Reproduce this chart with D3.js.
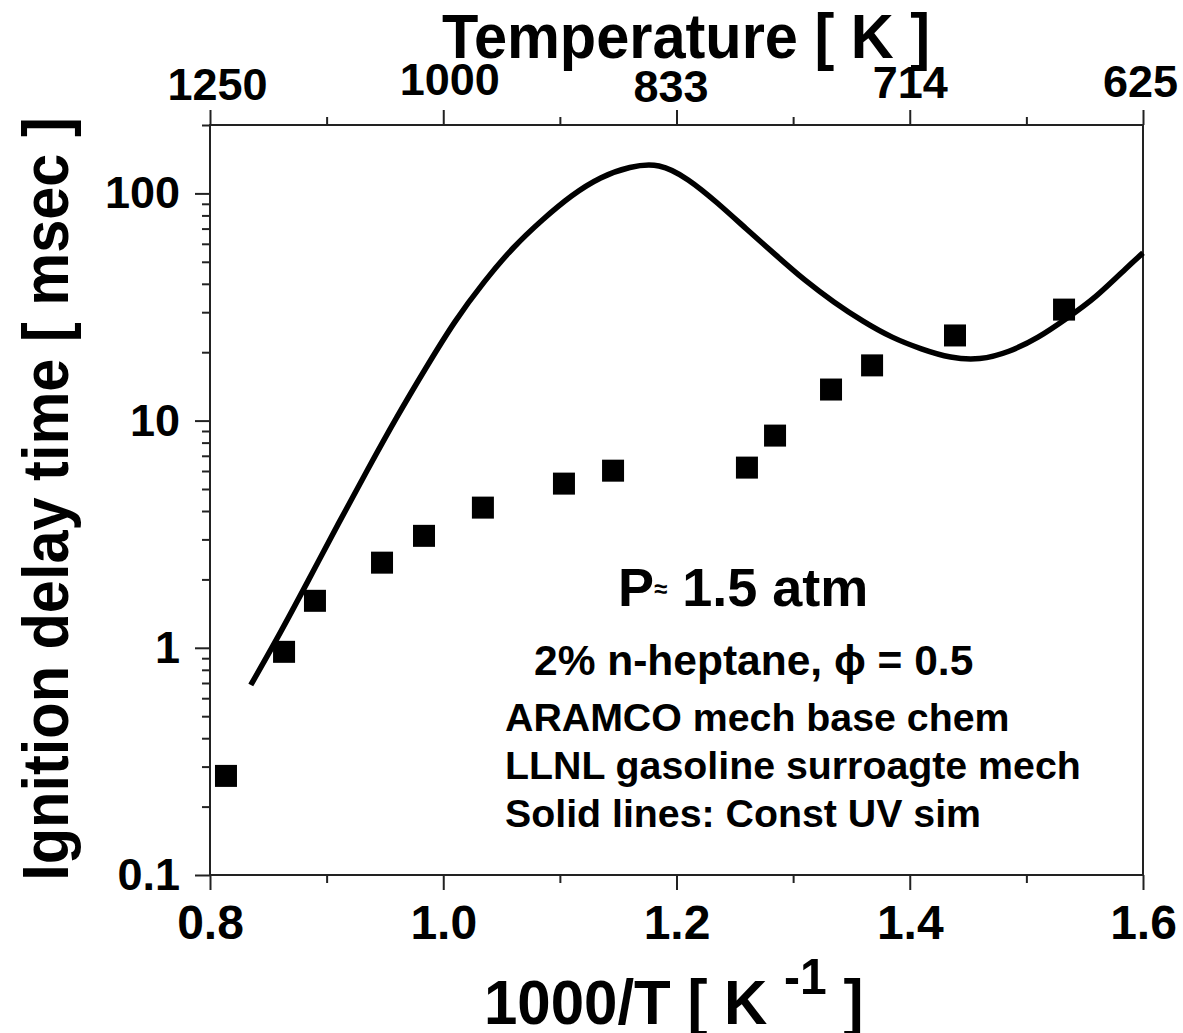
<!DOCTYPE html>
<html>
<head>
<meta charset="utf-8">
<script src="https://cdn.jsdelivr.net/npm/d3@7"></script>
<style>
  html, body { margin: 0; padding: 0; background: #fff; }
  svg { display: block; }
  text { font-family: "Liberation Sans", Arial, sans-serif; font-weight: bold; fill: #000; }
</style>
</head>
<body>
<svg id="chart" width="1183" height="1033"></svg>
<script>
// Simulated ignition delay (constant-UV), 1000/T in K^-1 vs delay in ms
const simInvT  = [0.835, 0.860, 0.885, 0.910, 0.935, 0.960, 0.985, 1.010, 1.035, 1.060,
                  1.085, 1.110, 1.135, 1.160, 1.185, 1.210, 1.235, 1.260, 1.285, 1.310,
                  1.335, 1.360, 1.385, 1.410, 1.435, 1.460, 1.485, 1.510, 1.535, 1.560,
                  1.585, 1.600];
const simDelay = [0.686, 1.16, 2.01, 3.51, 6.06, 10.3, 17.0, 27.2, 40.7, 57.5,
                  76.4, 97.4, 116.9, 130.0, 132.0, 114.6, 90.7, 69.7, 53.6, 41.6,
                  33.3, 27.4, 23.3, 20.7, 19.05, 18.76, 20.2, 23.3, 28.3, 35.4,
                  46.5, 54.7];

// Measured ignition delays (filled squares)
const expInvT  = [0.8137, 0.8635, 0.890, 0.9475, 0.9835, 1.034, 1.1035, 1.1456,
                  1.2604, 1.2845, 1.3325, 1.3677, 1.4388, 1.5323];
const expDelay = [0.273, 0.96, 1.61, 2.37, 3.11, 4.14, 5.28, 6.02,
                  6.21, 8.59, 13.7, 17.5, 23.7, 30.8];

// Axis ticks
const xMajor = [0.8, 1.0, 1.2, 1.4, 1.6];
const xMinor = [0.9, 1.1, 1.3, 1.5];
const xTickLabels = ["0.8", "1.0", "1.2", "1.4", "1.6"];
const tempTickLabels = ["1250", "1000", "833", "714", "625"];
const yMajor = [0.1, 1, 10, 100];
const yTickLabels = ["0.1", "1", "10", "100"];

const svg = d3.select("#chart");
const plotL = 210, plotR = 1143, plotT = 125, plotB = 875;

const x = d3.scaleLinear().domain([0.8, 1.6]).range([plotL, plotR]);
const y = d3.scaleLog().domain([0.1, 200]).range([plotB, plotT]);

const axisStroke = g => g.selectAll("line").attr("stroke", "#222").attr("stroke-width", 2);

// frame
svg.append("rect")
  .attr("x", plotL).attr("y", plotT)
  .attr("width", plotR - plotL).attr("height", plotB - plotT)
  .attr("fill", "none").attr("stroke", "#222").attr("stroke-width", 2);

// bottom axis
svg.append("g").attr("transform", `translate(0,${plotB})`)
  .call(d3.axisBottom(x).tickValues(xMajor).tickSize(15).tickPadding(15)
        .tickFormat((d, i) => xTickLabels[i]))
  .call(g => g.select(".domain").remove())
  .call(axisStroke)
  .call(g => g.selectAll("text").attr("font-size", 48).attr("fill", "#000"));
svg.append("g").attr("transform", `translate(0,${plotB})`)
  .call(d3.axisBottom(x).tickValues(xMinor).tickSize(8).tickFormat(""))
  .call(g => g.select(".domain").remove())
  .call(axisStroke);

// top axis: temperature in K
const topLabelShift = [[7, 3], [6, -2], [-6, 5], [0, 1], [-3, 0]];
svg.append("g").attr("transform", `translate(0,${plotT})`)
  .call(d3.axisTop(x).tickValues(xMajor).tickSize(15).tickPadding(13)
        .tickFormat((d, i) => tempTickLabels[i]))
  .call(g => g.select(".domain").remove())
  .call(axisStroke)
  .call(g => g.selectAll("text").attr("font-size", 45).attr("fill", "#000")
        .attr("dx", (d, i) => topLabelShift[i][0])
        .attr("dy", (d, i) => topLabelShift[i][1]));
svg.append("g").attr("transform", `translate(0,${plotT})`)
  .call(d3.axisTop(x).tickValues(xMinor).tickSize(8).tickFormat(""))
  .call(g => g.select(".domain").remove())
  .call(axisStroke);

// left axis (log)
svg.append("g").attr("transform", `translate(${plotL},0)`)
  .call(d3.axisLeft(y).tickValues(yMajor).tickSize(15).tickPadding(15)
        .tickFormat((d, i) => yTickLabels[i]))
  .call(g => g.select(".domain").remove())
  .call(axisStroke)
  .call(g => g.selectAll("text").attr("font-size", 45).attr("fill", "#000"));
const yMinor = y.ticks().filter(v => !yMajor.some(m => Math.abs(m - v) < 1e-9));
svg.append("g").attr("transform", `translate(${plotL},0)`)
  .call(d3.axisLeft(y).tickValues(yMinor).tickSize(8).tickFormat(""))
  .call(g => g.select(".domain").remove())
  .call(axisStroke);

// simulation curve
const line = d3.line()
  .x(d => x(d[0])).y(d => y(d[1]))
  .curve(d3.curveNatural);
svg.append("path")
  .datum(simInvT.map((v, i) => [v, simDelay[i]]))
  .attr("d", line)
  .attr("fill", "none").attr("stroke", "#000").attr("stroke-width", 5.5);

// measured points
const sq = 22;
svg.append("g").selectAll("rect")
  .data(expInvT.map((v, i) => [v, expDelay[i]]))
  .join("rect")
  .attr("x", d => x(d[0]) - sq / 2).attr("y", d => y(d[1]) - sq / 2)
  .attr("width", sq).attr("height", sq).attr("fill", "#000");

// axis titles (glyphs drawn slightly tall)
svg.append("text")
  .attr("transform", "translate(686,58) scale(1,1.06)")
  .attr("text-anchor", "middle").attr("font-size", 59.5)
  .text("Temperature [ K ]");

const xt = svg.append("text")
  .attr("transform", "translate(484,1024) scale(1,1.06)")
  .attr("font-size", 60);
xt.append("tspan").text("1000/T [ K ");
xt.append("tspan").attr("font-size", 48).attr("dy", -28).text("-1");
xt.append("tspan").attr("dy", 28).text("  ]");

svg.append("text")
  .attr("transform", "translate(68,499) rotate(-90) scale(1,1.08)")
  .attr("text-anchor", "middle").attr("font-size", 59.5)
  .text("Ignition delay time [ msec ]");

// annotations
const pt = svg.append("text").attr("x", 618).attr("y", 606).attr("font-size", 54);
pt.append("tspan").text("P");
pt.append("tspan").attr("font-size", 24).attr("dy", -9).text("≈");
pt.append("tspan").attr("dy", 9).text(" 1.5 atm");

svg.append("text").attr("x", 534).attr("y", 675).attr("font-size", 42.5)
  .text("2% n-heptane, ϕ = 0.5");

const notes = ["ARAMCO mech base chem", "LLNL gasoline surroagte mech", "Solid lines: Const UV sim"];
svg.append("g").selectAll("text").data(notes).join("text")
  .attr("x", 505).attr("y", (d, i) => 731 + i * 48)
  .attr("font-size", 39.3).text(d => d);
</script>
</body>
</html>
